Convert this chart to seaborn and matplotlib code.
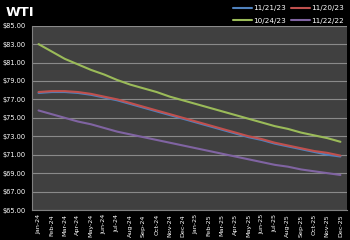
import matplotlib
matplotlib.use("Agg")
import matplotlib.pyplot as plt
import seaborn as sns
import pandas as pd
import numpy as np
from matplotlib.ticker import FixedLocator

months = ["Jan-24","Feb-24","Mar-24","Apr-24","May-24","Jun-24","Jul-24","Aug-24","Sep-24","Oct-24","Nov-24","Dec-24",
          "Jan-25","Feb-25","Mar-25","Apr-25","May-25","Jun-25","Jul-25","Aug-25","Sep-25","Oct-25","Nov-25","Dec-25"]
s_1121 = [77.7,77.8,77.8,77.7,77.5,77.2,76.9,76.5,76.1,75.7,75.3,74.9,74.5,74.1,73.7,73.3,72.9,72.6,72.2,71.9,71.6,71.3,71.0,70.8]
s_1120 = [77.8,77.9,77.9,77.8,77.6,77.3,77.0,76.6,76.2,75.8,75.4,75.0,74.6,74.2,73.8,73.4,73.0,72.7,72.3,72.0,71.7,71.4,71.2,70.9]
s_1024 = [83.0,82.2,81.4,80.8,80.2,79.7,79.1,78.6,78.2,77.8,77.3,76.9,76.5,76.1,75.7,75.3,74.9,74.5,74.1,73.8,73.4,73.1,72.8,72.4]
s_1122 = [75.8,75.4,75.0,74.6,74.3,73.9,73.5,73.2,72.9,72.6,72.3,72.0,71.7,71.4,71.1,70.8,70.5,70.2,69.9,69.7,69.4,69.2,69.0,68.8]
series_names = ["11/21/23","11/20/23","10/24/23","11/22/22"]
yticks = [65,67,69,71,73,75,77,79,81,83,85]

colors = {"11/21/23":"#4F81BD","11/20/23":"#C0504D","10/24/23":"#9BBB59","11/22/22":"#8064A2"}

rows = []
for name, vals in zip(series_names, [s_1121, s_1120, s_1024, s_1122]):
    for i, v in enumerate(vals):
        rows.append({"idx": i, "price": v, "series": name})
df = pd.DataFrame(rows)

sns.set_style("dark")
plt.rcParams['font.family'] = ['DejaVu Sans']

fig = plt.figure(figsize=(3.5, 2.4), dpi=100, facecolor="black")
ax = fig.add_axes([0.0914, 0.125, 0.9, 0.768])
ax.set_facecolor("#404040")

sns.lineplot(data=df, x="idx", y="price", hue="series", hue_order=series_names,
             palette=colors, linewidth=1.5, ax=ax, legend=False)

ax.set_xlim(-0.5, len(months) - 0.5)
ax.set_ylim(65, 85)
ax.set_yticks(yticks)
ax.set_yticklabels([f"${v:.2f}" for v in yticks], color="white", fontsize=4.8)
ax.set_xticks(range(len(months)))
ax.set_xticklabels(months, rotation=90, color="white", fontsize=4.6)
ax.xaxis.set_minor_locator(FixedLocator(np.arange(-0.5, len(months), 1)))
ax.tick_params(axis="x", which="major", length=0, pad=3)
ax.tick_params(axis="x", which="minor", length=2.5, color="#808080", width=0.6)
ax.tick_params(axis="y", length=2.5, color="#808080", width=0.6, pad=2)
ax.grid(axis="y", color="#8a8a8a", linewidth=0.8)
ax.grid(axis="x", visible=False)
for s in ["top", "right"]:
    ax.spines[s].set_visible(False)
for s in ["left", "bottom"]:
    ax.spines[s].set_visible(True)
    ax.spines[s].set_color("#808080")
    ax.spines[s].set_linewidth(0.8)
ax.set_xlabel("")
ax.set_ylabel("")

fig.text(0.015, 0.95, "WTI", color="white", fontsize=9.5, fontweight="bold", va="center", ha="left")

order = ["11/21/23", "10/24/23", "11/20/23", "11/22/22"]
handles = [plt.Line2D([], [], color=colors[n], linewidth=1.5) for n in order]
leg = fig.legend(handles, order, ncol=2, loc="upper right", bbox_to_anchor=(1.0, 1.005),
                 frameon=False, fontsize=5.2, labelcolor="white", handlelength=2.6,
                 handletextpad=0.1, columnspacing=0.8, labelspacing=0.9)

fig.savefig("out.png", dpi=100, facecolor="black")
